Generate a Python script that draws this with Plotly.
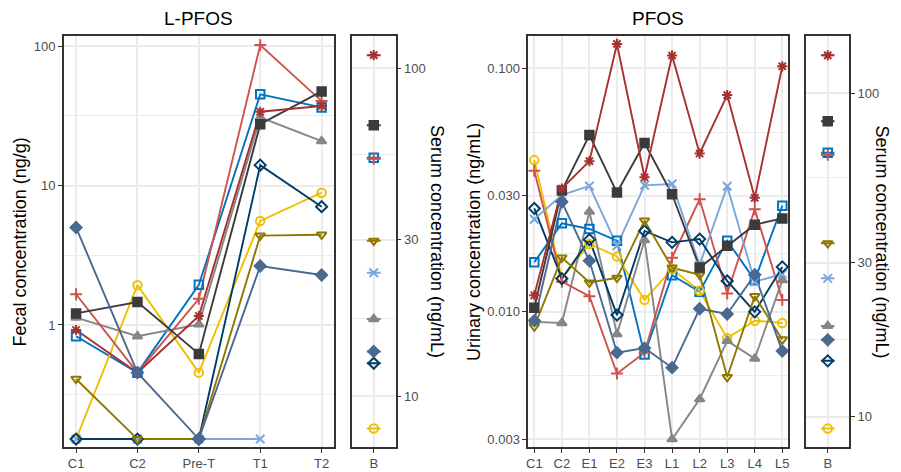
import plotly.graph_objects as go

# Sampling time points
lpfos_times = ["C1", "C2", "Pre-T", "T1", "T2"]
pfos_times = ["C1", "C2", "E1", "E2", "E3", "L1", "L2", "L3", "L4", "L5"]
strip_labels = ["B"]

# Participant ids, colours and marker symbols
subjects = ["S1", "S2", "S3", "S4", "S5", "S6", "S7", "S8", "S9", "S10"]
colors = ["#0073C2", "#EFC000", "#868686", "#CD534C", "#7AA6DC",
          "#003C67", "#8F7700", "#3B3B3B", "#A73030", "#4A6990"]
symbols = ["square-open", "circle-open", "triangle-up", "cross-thin-open", "x-thin-open",
           "diamond-open", "triangle-down-open", "square", "asterisk-open", "diamond"]

# L-PFOS in faeces (ng/g)
fecal_lpfos = {
    "S1": [0.83, 0.455, 1.94, 45.1, 36.3],
    "S2": [0.152, 1.93, 0.455, 5.57, 8.88],
    "S3": [1.13, 0.83, 1.01, 30.8, 20.8],
    "S4": [1.66, 0.455, 1.54, 101.6, 40.3],
    "S5": [0.152, 0.152, 0.152, 0.152, None],
    "S6": [0.152, 0.152, 0.152, 14.0, 7.05],
    "S7": [0.41, 0.152, 0.152, 4.37, 4.44],
    "S8": [1.21, 1.46, 0.62, 27.5, 47.3],
    "S9": [0.92, 0.455, 1.16, 33.8, 37.2],
    "S10": [5.0, 0.455, 0.152, 2.65, 2.28],
}

# PFOS in urine (ng/mL)
urine_pfos = {
    "S1": [0.0160, 0.0231, 0.0219, 0.0196, 0.00668, 0.01415, 0.0121, 0.0196, 0.0135, 0.0273],
    "S2": [0.042, 0.0137, 0.0190, 0.0169, 0.0112, 0.0150, 0.0122, 0.0078, 0.0092, 0.0090],
    "S3": [0.0091, 0.0090, 0.0258, 0.0081, 0.0197, 0.0030, 0.00438, 0.0076, 0.00643, 0.0135],
    "S4": [0.0380, 0.0133, 0.0116, 0.00558, 0.0068, 0.0167, 0.0290, 0.0119, 0.0264, 0.0112],
    "S5": [0.0240, 0.0302, 0.0329, 0.0187, 0.0331, 0.0335, 0.0156, 0.0328, 0.0133, 0.0143],
    "S6": [0.0266, 0.0137, 0.0198, 0.0097, 0.0215, 0.0193, 0.0199, 0.0134, 0.0100, 0.0153],
    "S7": [0.0087, 0.0167, 0.0132, 0.0138, 0.0237, 0.0152, 0.0142, 0.0054, 0.0116, 0.0077],
    "S8": [0.0104, 0.0315, 0.0532, 0.0309, 0.0494, 0.0304, 0.0152, 0.0187, 0.0228, 0.0242],
    "S9": [0.0117, 0.0321, 0.0416, 0.126, 0.0357, 0.113, 0.0447, 0.0777, 0.0294, 0.102],
    "S10": [0.0092, 0.0283, 0.0162, 0.0068, 0.0071, 0.0059, 0.0103, 0.0098, 0.0142, 0.0069],
}

# Baseline serum concentrations (ng/mL)
serum_lpfos = [53.4, 7.97, 17.2, 53.0, 23.8, 12.6, 29.8, 67.1, 109.8, 13.7]
serum_pfos = [65.5, 9.2, 19.1, 64.5, 26.8, 14.9, 34.4, 82.0, 131.0, 17.3]

W, H = 901, 472
FONT = "Liberation Sans, Arial, sans-serif"
GRID = "#EBEBEB"


def px(x):
    return x / W


def py(y):
    return 1 - y / H


fig = go.Figure()

panels = [
    (lpfos_times, fecal_lpfos, "x", "y"),
    (pfos_times, urine_pfos, "x3", "y3"),
]

# lines underneath all points
for times, data, xa, ya in panels:
    for s, c in zip(subjects, colors):
        fig.add_trace(go.Scatter(x=times, y=data[s], mode="lines", xaxis=xa, yaxis=ya,
                                 line=dict(color=c, width=1.9), showlegend=False,
                                 connectgaps=False, hoverinfo="skip"))
for times, data, xa, ya in panels:
    for s, c, m in zip(subjects, colors, symbols):
        fig.add_trace(go.Scatter(x=times, y=data[s], mode="markers", xaxis=xa, yaxis=ya,
                                 name=s, showlegend=False,
                                 marker=dict(symbol=m, size=8.5, color=c,
                                             line=dict(color=c, width=2))))

# serum strips: one position per strip label, with a short horizontal bar
strip_pos = list(range(len(strip_labels)))
for serum, xa, ya in [(serum_lpfos, "x2", "y2"), (serum_pfos, "x4", "y4")]:
    for s, c, m, v in zip(subjects, colors, symbols, serum):
        fig.add_trace(go.Scatter(x=strip_pos, y=[v], mode="markers", xaxis=xa, yaxis=ya,
                                 name=s, showlegend=False,
                                 error_x=dict(type="constant", value=0.19, width=0,
                                              thickness=2, color=c),
                                 marker=dict(symbol=m, size=8.5, color=c,
                                             line=dict(color=c, width=2))))

y_top, y_bot = 36, 447
ydom = [py(y_bot), py(y_top)]

base_axis = dict(showline=True, mirror=True, linecolor="#333333",
                 linewidth=1.5, ticks="outside", ticklen=4, tickwidth=1.2,
                 tickcolor="#333333", showgrid=True, gridcolor=GRID, gridwidth=1.6,
                 tickfont=dict(family=FONT, size=13, color="#4D4D4D"), zeroline=False,
                 fixedrange=True)
common_x = dict(base_axis, type="category")
strip_x = dict(base_axis, type="linear", tickmode="array", tickvals=strip_pos,
               ticktext=strip_labels, range=[-0.6, 0.6])
common_y = dict(base_axis, type="log", tickmode="array")


def minor(vals):
    return dict(tickmode="array", tickvals=vals, showgrid=True, gridcolor=GRID,
                gridwidth=0.9, ticks="")


fig.update_layout(
    width=W, height=H,
    margin=dict(l=0, r=0, t=0, b=0),
    paper_bgcolor="white", plot_bgcolor="white",
    font=dict(family=FONT),
    xaxis=dict(common_x, domain=[px(62), px(333)], range=[-0.2, 4.2],
               categoryorder="array", categoryarray=lpfos_times, anchor="y"),
    yaxis=dict(common_y, domain=ydom, range=[-0.875, 2.072], anchor="x",
               tickvals=[1, 10, 100], ticktext=["1", "10", "100"],
               minor=minor([0.316, 3.16, 31.6])),
    xaxis2=dict(strip_x, domain=[px(351), px(395)], anchor="y2"),
    yaxis2=dict(common_y, domain=ydom, range=[0.845, 2.099], anchor="x2", side="right",
                tickvals=[10, 30, 100], ticktext=["10", "30", "100"],
                minor=minor([17.32, 54.77])),
    xaxis3=dict(common_x, domain=[px(528), px(789)], range=[-0.22, 9.22],
                categoryorder="array", categoryarray=pfos_times, anchor="y3"),
    yaxis3=dict(common_y, domain=ydom, range=[-2.555, -0.867], anchor="x3",
                tickvals=[0.003, 0.01, 0.03, 0.1],
                ticktext=["0.003", "0.010", "0.030", "0.100"],
                minor=minor([0.005477, 0.01732, 0.05477])),
    xaxis4=dict(strip_x, domain=[px(807), px(850)], anchor="y4"),
    yaxis4=dict(common_y, domain=ydom, range=[0.907, 2.177], anchor="x4", side="right",
                tickvals=[10, 30, 100], ticktext=["10", "30", "100"],
                minor=minor([17.32, 54.77])),
)

mid_y = py((y_top + y_bot) / 2)
annots = [
    dict(text="L-PFOS", x=px(197.5), y=py(18), size=19, angle=0),
    dict(text="PFOS", x=px(658.5), y=py(18), size=19, angle=0),
    dict(text="Fecal concentration (ng/g)", x=px(18), y=mid_y, size=18, angle=-90),
    dict(text="Serum concentration (ng/mL)", x=px(437), y=mid_y, size=18, angle=90),
    dict(text="Urinary concentration (ng/mL)", x=px(473), y=mid_y, size=18, angle=-90),
    dict(text="Serum concentration (ng/mL)", x=px(883), y=mid_y, size=18, angle=90),
]
for a in annots:
    fig.add_annotation(text=a["text"], x=a["x"], y=a["y"], xref="paper", yref="paper",
                       showarrow=False, textangle=a["angle"], xanchor="center",
                       yanchor="middle", font=dict(family=FONT, size=a["size"], color="black"))

fig.write_html("out.html")
